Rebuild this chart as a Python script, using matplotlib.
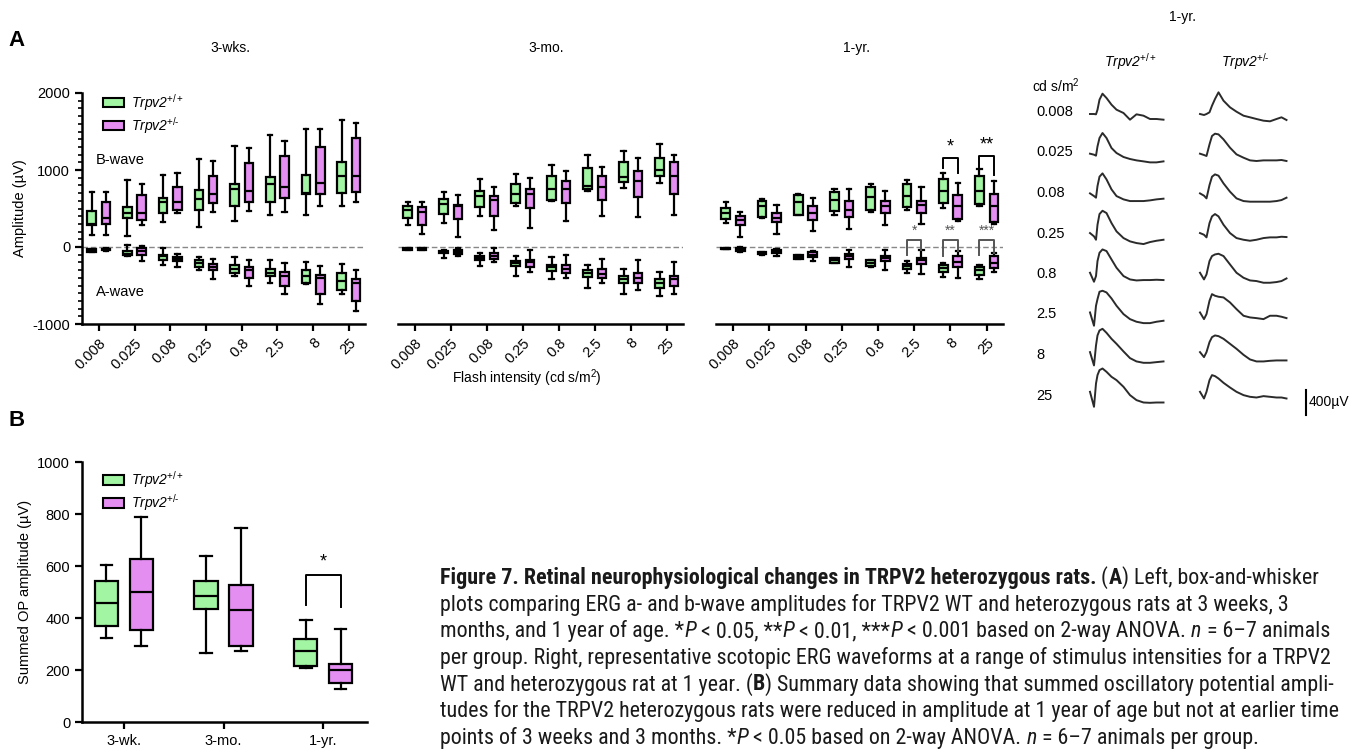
import matplotlib
matplotlib.use('Agg')
import matplotlib.pyplot as plt
from matplotlib.patches import Patch
from matplotlib.ticker import MultipleLocator

plt.rcParams['font.family'] = ['Liberation Sans', 'DejaVu Sans']
plt.rcParams['mathtext.fontset'] = 'custom'
plt.rcParams['mathtext.rm'] = 'Liberation Sans'
plt.rcParams['mathtext.it'] = 'Liberation Sans:italic'
plt.rcParams['axes.unicode_minus'] = False

W, H = 1367, 754
GREEN = '#a2f5a2'
PINK = '#e58ef2'

intensities = ['0.008', '0.025', '0.08', '0.25', '0.8', '2.5', '8', '25']
ages_a = ['3-wks.', '3-mo.', '1-yr.']
ages_b = ['3-wk.', '3-mo.', '1-yr.']
genotypes = [r'Trpv2$^{+/+}$', r'Trpv2$^{+/\text{-}}$']

# box stats: (whislo, q1, med, q3, whishi) in uV, one per flash intensity
bwave_wt_3wk = [(160, 290, 300, 470, 720), (140, 375, 440, 525, 870), (320, 440, 578, 634, 935),
                (259, 483, 620, 741, 1138), (332, 534, 750, 819, 1310), (414, 590, 819, 914, 1461),
                (418, 690, 700, 935, 1526), (534, 698, 922, 1108, 1655)]
bwave_het_3wk = [(160, 297, 375, 578, 720), (290, 353, 448, 677, 815), (448, 483, 586, 776, 957),
                 (461, 569, 690, 927, 1116), (470, 578, 733, 1086, 1280), (461, 634, 776, 1181, 1379),
                 (526, 690, 836, 1302, 1530), (578, 720, 922, 1422, 1612)]
awave_wt_3wk = [(-70, -60, -40, -30, -20), (-120, -100, -90, -56, 30), (-228, -164, -120, -100, -13),
                (-302, -259, -207, -172, -130), (-380, -336, -284, -228, -134), (-466, -371, -336, -280, -164),
                (-487, -474, -380, -302, -198), (-616, -560, -444, -336, -215)]
awave_het_3wk = [(-50, -40, -30, -20, -10), (-185, -100, -56, -13, 10), (-259, -185, -155, -130, -86),
                 (-414, -302, -259, -215, -155), (-500, -400, -293, -259, -164), (-616, -509, -371, -328, -207),
                 (-737, -616, -400, -358, -241), (-832, -703, -466, -422, -293)]

bwave_wt_3mo = [(289, 375, 483, 526, 578), (310, 431, 560, 620, 720), (397, 517, 668, 728, 884),
                (526, 569, 685, 819, 948), (600, 612, 750, 927, 1065), (733, 750, 793, 1030, 1194),
                (763, 849, 914, 1108, 1246), (828, 922, 1000, 1159, 1332)]
bwave_het_3mo = [(172, 289, 461, 517, 590), (129, 362, 526, 547, 677), (224, 397, 612, 664, 784),
                 (246, 504, 690, 759, 892), (332, 569, 750, 858, 987), (397, 612, 784, 922, 1043),
                 (388, 655, 858, 987, 1151), (418, 690, 922, 1099, 1194)]
awave_wt_3mo = [(-40, -35, -25, -15, -10), (-142, -78, -60, -47, -35), (-241, -164, -142, -120, -78),
                (-371, -241, -207, -185, -120), (-414, -315, -259, -228, -134), (-530, -388, -336, -302, -228),
                (-616, -474, -414, -380, -284), (-638, -530, -474, -414, -328)]
awave_het_3mo = [(-40, -35, -25, -15, -10), (-120, -90, -65, -35, -13), (-198, -155, -112, -78, -13),
                 (-328, -259, -198, -164, -43), (-400, -336, -284, -228, -100), (-466, -400, -345, -284, -150),
                 (-552, -466, -400, -336, -164), (-616, -500, -414, -380, -198)]

bwave_wt_1yr = [(310, 362, 448, 504, 578), (375, 388, 526, 603, 620), (418, 418, 590, 677, 690),
                (418, 474, 612, 720, 754), (461, 483, 655, 776, 819), (483, 517, 668, 819, 871),
                (504, 569, 728, 879, 966), (526, 560, 728, 922, 1009)]
bwave_het_1yr = [(129, 289, 345, 397, 461), (172, 319, 375, 448, 539), (203, 353, 448, 526, 634),
                 (233, 388, 483, 603, 750), (280, 448, 526, 603, 728), (302, 440, 547, 603, 776),
                 (341, 362, 534, 677, 828), (297, 319, 534, 685, 862)]
awave_wt_1yr = [(-30, -28, -20, -12, -10), (-100, -95, -80, -65, -60), (-155, -150, -130, -105, -100),
                (-210, -205, -175, -145, -140), (-255, -250, -207, -170, -165), (-336, -284, -250, -220, -185),
                (-388, -328, -272, -237, -207), (-414, -358, -302, -259, -228)]
awave_het_1yr = [(-60, -50, -30, -15, -5), (-120, -80, -65, -45, -30), (-185, -130, -100, -70, -56),
                 (-259, -155, -120, -86, -35), (-293, -185, -142, -112, -43), (-349, -220, -172, -142, -43),
                 (-400, -259, -198, -112, -56), (-328, -272, -207, -120, -78)]

# significance marks on 1-yr panel: (intensity index, bracket top, left leg end, right leg end, label)
sig_bwave_1yr = [(6, 1160, 1022, 957, '*'), (7, 1181, 1022, 935, '**')]
sig_awave_1yr = [(5, 86, -110, -40, '*'), (6, 86, -120, -50, '**'), (7, 86, -100, -75, '***')]

# summed OP amplitudes (panel B)
op_wt = [(324, 369, 459, 541, 603), (267, 436, 483, 542, 638), (209, 215, 272, 321, 391)]
op_het = [(292, 353, 500, 626, 787), (272, 292, 429, 528, 746), (128, 151, 199, 223, 356)]
sig_op = [(2, 564, 449, 442, '*')]

# representative 1-yr ERG traces, time in ms, amplitude in uV (relative to trace start)
wt_t = [0, 8, 12, 15, 19, 25, 33, 43, 53, 67, 80, 93, 107, 120, 133, 147]
wt_traces = [
    [0, 0, -5, 69, 229, 325, 256, 149, 69, 16, -91, -5, -27, -80, -80, -91],
    [0, -16, -32, 117, 251, 331, 251, 91, 11, -53, -85, -107, -123, -139, -139, -123],
    [0, -43, -69, 117, 267, 320, 224, 64, -43, -96, -123, -123, -123, -112, -96, -85],
    [0, -53, -107, 133, 304, 357, 320, 160, 27, -80, -133, -160, -176, -144, -123, -107],
    [0, -144, -53, 187, 320, 373, 347, 213, 80, -53, -107, -123, -117, -117, -112, -117],
    [0, -213, 107, 213, 331, 347, 320, 224, 107, -27, -107, -149, -171, -171, -149, -133],
    [0, -213, 107, 267, 347, 373, 309, 213, 133, 11, -96, -149, -171, -171, -160, -149],
    [0, -240, 133, 267, 347, 373, 320, 240, 187, 80, -53, -133, -171, -176, -171, -171],
]
het_t = [0, 8, 13, 19, 24, 30, 37, 47, 60, 73, 87, 100, 113, 127, 140, 153, 163, 173]
het_traces = [
    [0, -16, 0, 27, 133, 240, 347, 213, 107, 37, -27, -53, -80, -107, -117, -80, -53, -96],
    [0, -21, -37, 149, 283, 320, 309, 229, 96, -11, -64, -107, -117, -107, -107, -107, -101, -117],
    [0, -37, -80, 133, 267, 304, 283, 160, 27, -80, -123, -133, -133, -133, -133, -123, -107, -69],
    [0, -27, -69, 160, 267, 304, 267, 133, 0, -80, -107, -123, -107, -80, -69, -69, -59, -64],
    [0, -107, -27, 187, 267, 293, 304, 267, 133, 0, -80, -123, -133, -160, -160, -149, -133, -91],
    [0, -107, -27, 187, 293, 267, 251, 240, 160, 53, -53, -80, -91, -107, -53, -53, -69, -91],
    [0, -80, 0, 160, 240, 267, 256, 213, 133, 53, -43, -117, -149, -149, -139, -133, -133, -133],
    [0, -107, 0, 187, 267, 251, 213, 144, 69, 0, -53, -80, -91, -69, -80, -91, -91, -107],
]
scale_bar_uv = 400

caption_lines = [
    [('Figure 7. Retinal neurophysiological changes in TRPV2 heterozygous rats.', 'bold', 'normal'),
     (' (', 'normal', 'normal'), ('A', 'bold', 'normal'), (') Left, box-and-whisker', 'normal', 'normal')],
    [('plots comparing ERG a- and b-wave amplitudes for TRPV2 WT and heterozygous rats at 3 weeks, 3', 'normal', 'normal')],
    [('months, and 1 year of age. *', 'normal', 'normal'), ('P', 'normal', 'italic'),
     (' < 0.05, **', 'normal', 'normal'), ('P', 'normal', 'italic'), (' < 0.01, ***', 'normal', 'normal'),
     ('P', 'normal', 'italic'), (' < 0.001 based on 2-way ANOVA. ', 'normal', 'normal'),
     ('n', 'normal', 'italic'), (' = 6\u20137 animals', 'normal', 'normal')],
    [('per group. Right, representative scotopic ERG waveforms at a range of stimulus intensities for a TRPV2', 'normal', 'normal')],
    [('WT and heterozygous rat at 1 year. (', 'normal', 'normal'), ('B', 'bold', 'normal'),
     (') Summary data showing that summed oscillatory potential ampli-', 'normal', 'normal')],
    [('tudes for the TRPV2 heterozygous rats were reduced in amplitude at 1 year of age but not at earlier time', 'normal', 'normal')],
    [('points of 3 weeks and 3 months. *', 'normal', 'normal'), ('P', 'normal', 'italic'),
     (' < 0.05 based on 2-way ANOVA. ', 'normal', 'normal'), ('n', 'normal', 'italic'),
     (' = 6\u20137 animals per group.', 'normal', 'normal')],
]


def px_axes(fig, left, top, right, bottom):
    return fig.add_axes([left / W, 1 - bottom / H, (right - left) / W, (bottom - top) / H])


def stats(rows):
    return [dict(whislo=r[0], q1=r[1], med=r[2], q3=r[3], whishi=r[4]) for r in rows]


def draw_boxes(ax, rows, positions, color, width):
    ax.bxp(stats(rows), positions=positions, widths=width, showfliers=False, patch_artist=True,
           boxprops=dict(facecolor=color, edgecolor='black', linewidth=1.6),
           medianprops=dict(color='black', linewidth=1.6),
           whiskerprops=dict(color='black', linewidth=1.6),
           capprops=dict(color='black', linewidth=1.6), manage_ticks=False)


def brackets(ax, marks, off, size, color='black', gap=40):
    for i, top, l_end, r_end, lab in marks:
        ax.plot([i - off, i - off, i + off, i + off], [l_end, top, top, r_end], color=color, lw=1.4)
        ax.text(i, top + gap, lab, ha='center', va='bottom', fontsize=size, color=color)


def style_axis(ax, show_y):
    for s in ['top', 'right']:
        ax.spines[s].set_visible(False)
    ax.spines['bottom'].set_linewidth(1.8)
    ax.spines['left'].set_linewidth(1.8)
    ax.tick_params(width=1.6, length=5, labelsize=10.5)
    if not show_y:
        ax.spines['left'].set_visible(False)
        ax.set_yticks([])


fig = plt.figure(figsize=(W / 100, H / 100), dpi=100)

# ---- panel A box plots
a_boxes = [(bwave_wt_3wk, bwave_het_3wk, awave_wt_3wk, awave_het_3wk),
           (bwave_wt_3mo, bwave_het_3mo, awave_wt_3mo, awave_het_3mo),
           (bwave_wt_1yr, bwave_het_1yr, awave_wt_1yr, awave_het_1yr)]
a_left = [82, 398, 716]
a_right = [365, 683, 1003]
off = 0.2
xs = list(range(len(intensities)))
axes_a = []
for k, (bw, bh, aw, ah) in enumerate(a_boxes):
    ax = px_axes(fig, a_left[k], 93, a_right[k], 324)
    axes_a.append(ax)
    ax.axhline(0, color='#888888', lw=1, ls=(0, (4, 2)), zorder=0)
    draw_boxes(ax, bw, [x - off for x in xs], GREEN, 0.24)
    draw_boxes(ax, bh, [x + off for x in xs], PINK, 0.24)
    draw_boxes(ax, aw, [x - off for x in xs], GREEN, 0.24)
    draw_boxes(ax, ah, [x + off for x in xs], PINK, 0.24)
    ax.set_xlim(-0.47, 7.45)
    ax.set_ylim(-1000, 2000)
    ax.set_xticks(xs)
    ax.set_xticklabels(intensities, rotation=45, ha='right', rotation_mode='anchor')
    style_axis(ax, k == 0)
    fig.text([230, 546, 857][k] / W, 1 - 48 / H, ages_a[k], ha='center', va='center', fontsize=10)

ax = axes_a[0]
ax.set_yticks([-1000, 0, 1000, 2000])
ax.yaxis.set_minor_locator(MultipleLocator(100))
ax.tick_params(axis='y', which='minor', length=3, width=1.2)
ax.set_ylabel('Amplitude (\u00b5V)', fontsize=10.5, labelpad=4)
ax.text(0.05, 0.71, 'B-wave', transform=ax.transAxes, fontsize=10.5, va='center')
ax.text(0.05, 0.14, 'A-wave', transform=ax.transAxes, fontsize=10.5, va='center')
legend_handles = [Patch(facecolor=GREEN, edgecolor='black', lw=1.5, label=genotypes[0]),
                  Patch(facecolor=PINK, edgecolor='black', lw=1.5, label=genotypes[1])]
ax.legend(handles=legend_handles, loc='upper left', bbox_to_anchor=(0.03, 1.06), frameon=False,
          prop={'size': 10, 'style': 'italic'}, handlelength=1.5, handleheight=0.7,
          labelspacing=0.15, handletextpad=0.5)

brackets(axes_a[2], sig_bwave_1yr, off, 13, gap=35)
brackets(axes_a[2], sig_awave_1yr, off, 10, color='#555555', gap=40)

fig.text(527 / W, 1 - 378 / H, 'Flash intensity (cd s/m$^2$)', ha='center', va='center', fontsize=10)

# ---- representative traces
axt = px_axes(fig, 1085, 80, 1367, 420)
axt.set_xlim(-10, 554)
axt.set_ylim(544 - 340 * 16, 544)
axt.axis('off')
row_step = 635
het_shift = 220
for r in range(len(intensities)):
    axt.plot(wt_t, [v - r * row_step for v in wt_traces[r]], color='#2b2b2b', lw=1.4)
    axt.plot([t + het_shift for t in het_t], [v - r * row_step for v in het_traces[r]],
             color='#2b2b2b', lw=1.4)
    fig.text(1036 / W, 1 - (112 + r * 40.5) / H, intensities[r], fontsize=10.5, va='center')
axt.plot([432, 432], [-4816, -4816 + scale_bar_uv], color='black', lw=1.5)
axt.text(438, -4816 + scale_bar_uv / 2, '%d\u00b5V' % scale_bar_uv, fontsize=10, va='center')
fig.text(1032 / W, 1 - 86 / H, 'cd s/m$^2$', fontsize=10, va='center')
fig.text(1130 / W, 1 - 62 / H, genotypes[0], fontsize=10, style='italic', ha='center', va='center')
fig.text(1245 / W, 1 - 62 / H, genotypes[1], fontsize=10, style='italic', ha='center', va='center')
fig.text(1182 / W, 1 - 17 / H, '1-yr.', fontsize=10, ha='center', va='center')

# ---- panel B
axb = px_axes(fig, 82, 462, 367, 722)
xb = list(range(len(ages_b)))
offb = 0.175
draw_boxes(axb, op_wt, [x - offb for x in xb], GREEN, 0.235)
draw_boxes(axb, op_het, [x + offb for x in xb], PINK, 0.235)
axb.set_xlim(-0.42, 2.44)
axb.set_ylim(0, 1000)
axb.set_yticks(range(0, 1001, 200))
axb.set_xticks(xb)
axb.set_xticklabels(ages_b)
style_axis(axb, True)
axb.set_ylabel('Summed OP amplitude (\u00b5V)', fontsize=10.5, labelpad=4)
axb.legend(handles=legend_handles, loc='upper left', bbox_to_anchor=(0.03, 1.02), frameon=False,
           prop={'size': 10, 'style': 'italic'}, handlelength=1.5, handleheight=0.7,
           labelspacing=0.15, handletextpad=0.5)
brackets(axb, sig_op, offb, 13, gap=20)

# panel letters
fig.text(8 / W, 1 - 40 / H, 'A', fontsize=16, fontweight='heavy', va='center')
fig.text(8 / W, 1 - 420 / H, 'B', fontsize=16, fontweight='heavy', va='center')

# ---- caption, drawn piece by piece
cap_family = ['Liberation Sans Narrow', 'Roboto Condensed', 'Roboto']
renderer = fig.canvas.get_renderer()


def text_width(s, size, weight, style):
    t = fig.text(0, 0, s + '|', fontsize=size, fontweight=weight, fontstyle=style, family=cap_family)
    b = fig.text(0, 0, '|', fontsize=size, fontweight=weight, fontstyle=style, family=cap_family)
    w = t.get_window_extent(renderer).width - b.get_window_extent(renderer).width
    t.remove()
    b.remove()
    return w


ref = caption_lines[3][0][0]
cap_size = 13 * (1330 - 440) / text_width(ref, 13, 'normal', 'normal')
for i, parts in enumerate(caption_lines):
    x = 440
    y = 584 + i * 26.6
    for s, wgt, sty in parts:
        fig.text(x / W, 1 - y / H, s, fontsize=cap_size, fontweight=wgt, fontstyle=sty,
                 family=cap_family, va='baseline', color='#1a1a1a')
        x += text_width(s, cap_size, wgt, sty)

fig.savefig('out.png', dpi=100)
